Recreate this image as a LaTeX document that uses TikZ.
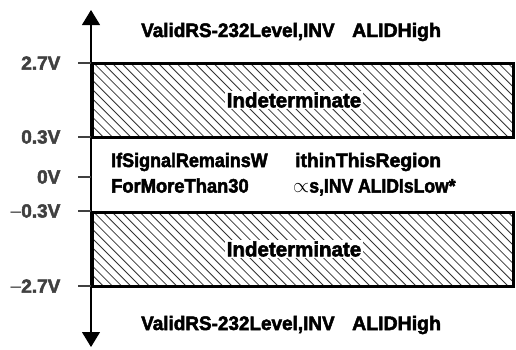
\documentclass[tikz,border=0pt]{standalone}
\usepackage{fontspec}
\setmainfont{Liberation Sans}[BoldFeatures={FakeBold=2.5}]
\usetikzlibrary{arrows.meta}

% a run of text squeezed horizontally by the given factor
\newcommand\widthset[2]{\scalebox{#1}[1]{#2}}

\tikzset{
  lbl/.style={font=\bfseries\fontsize{19.5}{21}\selectfont, inner sep=0pt},
  ticklbl/.style={font=\bfseries\fontsize{19}{20}\selectfont, inner sep=0pt, anchor=east},
  tickmark/.style={line width=1.3pt, black!75},
  bandframe/.style={line width=3pt},
  hatch/.style={line width=0.8pt, black!80},
  bandlbl/.style={font=\bfseries\fontsize{20.5}{22}\selectfont, fill=white, inner xsep=1.5pt, inner ysep=1pt},
  axisline/.style={line width=1.1pt, {Triangle[width=18pt,length=15pt]}-{Triangle[width=18pt,length=15pt]}}
}

\begin{document}
\begin{tikzpicture}[x=1pt,y=-1pt]
\useasboundingbox (0,0) rectangle (516,349);

% voltage axis
\coordinate (axbot) at (91,347);
\coordinate (axtop) at (91,10);
\draw[axisline] (axbot) -- (axtop);

% ticks and their values
\foreach \name/\yy/\txt in {t27/63/2.7V, t03/137/0.3V, t0/177/0V, tm03/211/{{\mdseries--}0.3V}, tm27/286/{{\mdseries--}2.7V}} {
  \coordinate (\name) at (91,\yy);
  \draw[tickmark] (\name) -- ++(-13,0) node[ticklbl, xshift=-17pt] {\txt};
}

% indeterminate bands: diagonal hatching clipped to each band, then the frame
\foreach \top/\bot in {63/137, 212/286} {
  \begin{scope}
    \clip (92.5,\top) rectangle (513.5,\bot);
    \foreach \k in {0,...,55} {
      \draw[hatch] ({20+9.2*\k},\top) -- ++(74,74);
    }
  \end{scope}
  \draw[bandframe] (92.5,\top) rectangle (513.5,\bot);
}
\node[bandlbl] (indtop) at (294,100) {Indeterminate};
\node[bandlbl] (indbot) at (294,249) {Indeterminate};

% region descriptions
\node[lbl, anchor=west] (hitop) at (141,32) {\widthset{0.97}{ValidRS-232Level,INV}\hspace{17.5pt}ALIDHigh};
\node[lbl, anchor=west] (mid1) at (111,162) {\widthset{0.92}{IfSignalRemainsW}\hspace{27.5pt}\widthset{0.99}{ithinThisRegion}};
\node[lbl, anchor=west] (mid2) at (111,187) {\widthset{0.94}{ForMoreThan30}\hspace{44.5pt}{\mdseries$\propto$}\widthset{0.9}{s,INV ALIDIsLow*}};
\node[lbl, anchor=west] (hibot) at (141,325) {\widthset{0.97}{ValidRS-232Level,INV}\hspace{17.5pt}ALIDHigh};
\end{tikzpicture}
\end{document}
